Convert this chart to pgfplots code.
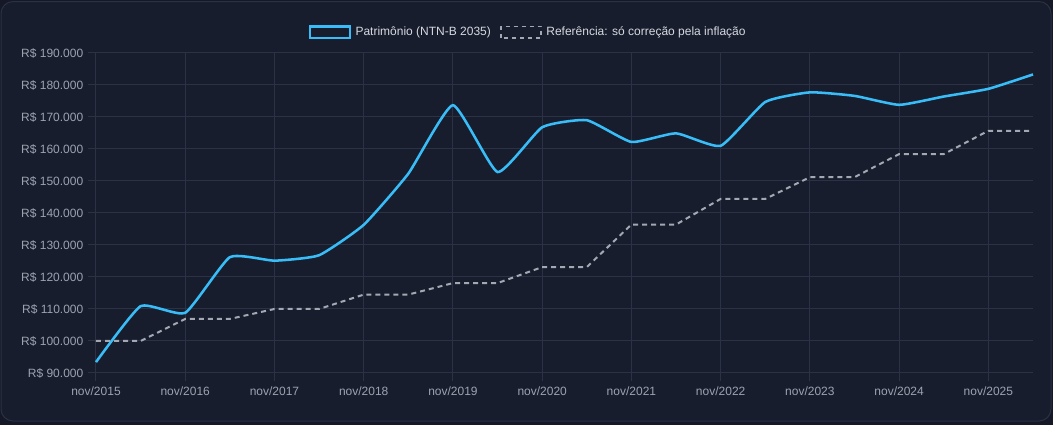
\documentclass[border=0pt]{standalone}
\usepackage{pgfplots}
\pgfplotsset{compat=1.18}
\usepackage{pgfplotstable}
\usepackage{fontspec}
\setmainfont{Liberation Sans}
\definecolor{bgout}{HTML}{151927}
\definecolor{panel}{HTML}{181D2E}
\definecolor{panelborder}{HTML}{2B3143}
\definecolor{gridc}{HTML}{2C3245}
\definecolor{cyanl}{HTML}{38BDF8}
\definecolor{greyl}{HTML}{A3A8B3}
\definecolor{tickc}{HTML}{9CA3AF}
\definecolor{legc}{HTML}{D6D9DF}

\pgfplotstableread{
x y
0 93400
0.5 110900
1 108800
1.5 126200
2 125100
2.5 126800
3 136300
3.5 152300
4 173700
4.5 152800
5 166800
5.5 169000
6 162200
6.5 164900
7 161000
7.5 174700
8 177700
8.5 176600
9 173800
9.5 176400
10 178800
10.5 183300
}\patrimonio

\pgfplotstableread{
x y
0 100000
0.5 100000
1 106900
1.5 106900
2 110000
2.5 110000
3 114500
3.5 114500
4 118100
4.5 118100
5 123100
5.5 123100
6 136400
6.5 136400
7 144400
7.5 144400
8 151200
8.5 151200
9 158400
9.5 158400
10 165700
10.5 165700
}\referencia

\begin{document}
\begin{tikzpicture}
\fill[bgout] (0pt,0pt) rectangle (789.75pt,318.75pt);
\fill[panel, draw=panelborder, line width=0.75pt, rounded corners=9pt] (0.75pt,3pt) rectangle (788.25pt,317.6pt);
\begin{axis}[
  at={(72pt,39pt)}, anchor=south west,
  scale only axis,
  width=702.75pt, height=240pt,
  xmin=0, xmax=10.5,
  ymin=90000, ymax=190000,
  xtick={0,1,2,3,4,5,6,7,8,9,10},
  xticklabels={nov/2015,nov/2016,nov/2017,nov/2018,nov/2019,nov/2020,nov/2021,nov/2022,nov/2023,nov/2024,nov/2025},
  ytick={90000,100000,110000,120000,130000,140000,150000,160000,170000,180000,190000},
  yticklabels={R\$ 90.000,R\$ 100.000,R\$ 110.000,R\$ 120.000,R\$ 130.000,R\$ 140.000,R\$ 150.000,R\$ 160.000,R\$ 170.000,R\$ 180.000,R\$ 190.000},
  scaled y ticks=false,
  xtick pos=bottom, ytick pos=left,
  tick align=outside,
  major tick length=6pt,
  tick style={gridc, line width=0.75pt},
  axis line style={draw=none},
  grid=major,
  major grid style={gridc, line width=0.75pt},
  ticklabel style={font=\fontsize{9}{11}\selectfont, text=tickc},
  xticklabel style={yshift=-0.5pt},
  clip=false,
  legend style={at={(0.4615,1.065)}, anchor=center, draw=none, fill=none,
    text=legc, font=\fontsize{9}{11}\selectfont, legend columns=2,
    /tikz/every odd column/.append style={column sep=1.5pt},
    /tikz/every even column/.append style={column sep=5pt}},
  legend cell align=left,
]
\addplot[cyanl, line width=1.9pt, smooth, tension=0.28,
  legend image code/.code={\draw[cyanl, line width=1.7pt, fill=panel] (0pt,-4.3pt) rectangle (30pt,4.3pt);}]
  table[x=x,y=y] {\patrimonio};
\addlegendentry{Patrimônio (NTN-B 2035)}
\addplot[greyl, line width=1.5pt, dash pattern=on 3.75pt off 3pt, line join=round,
  legend image code/.code={\draw[greyl, line width=1.1pt, dash pattern=on 3pt off 3pt, fill=panel] (0pt,-4.3pt) rectangle (30pt,4.3pt);}]
  table[x=x,y=y] {\referencia};
\addlegendentry{Referência: só correção pela inflação}
\end{axis}
\end{tikzpicture}
\end{document}
